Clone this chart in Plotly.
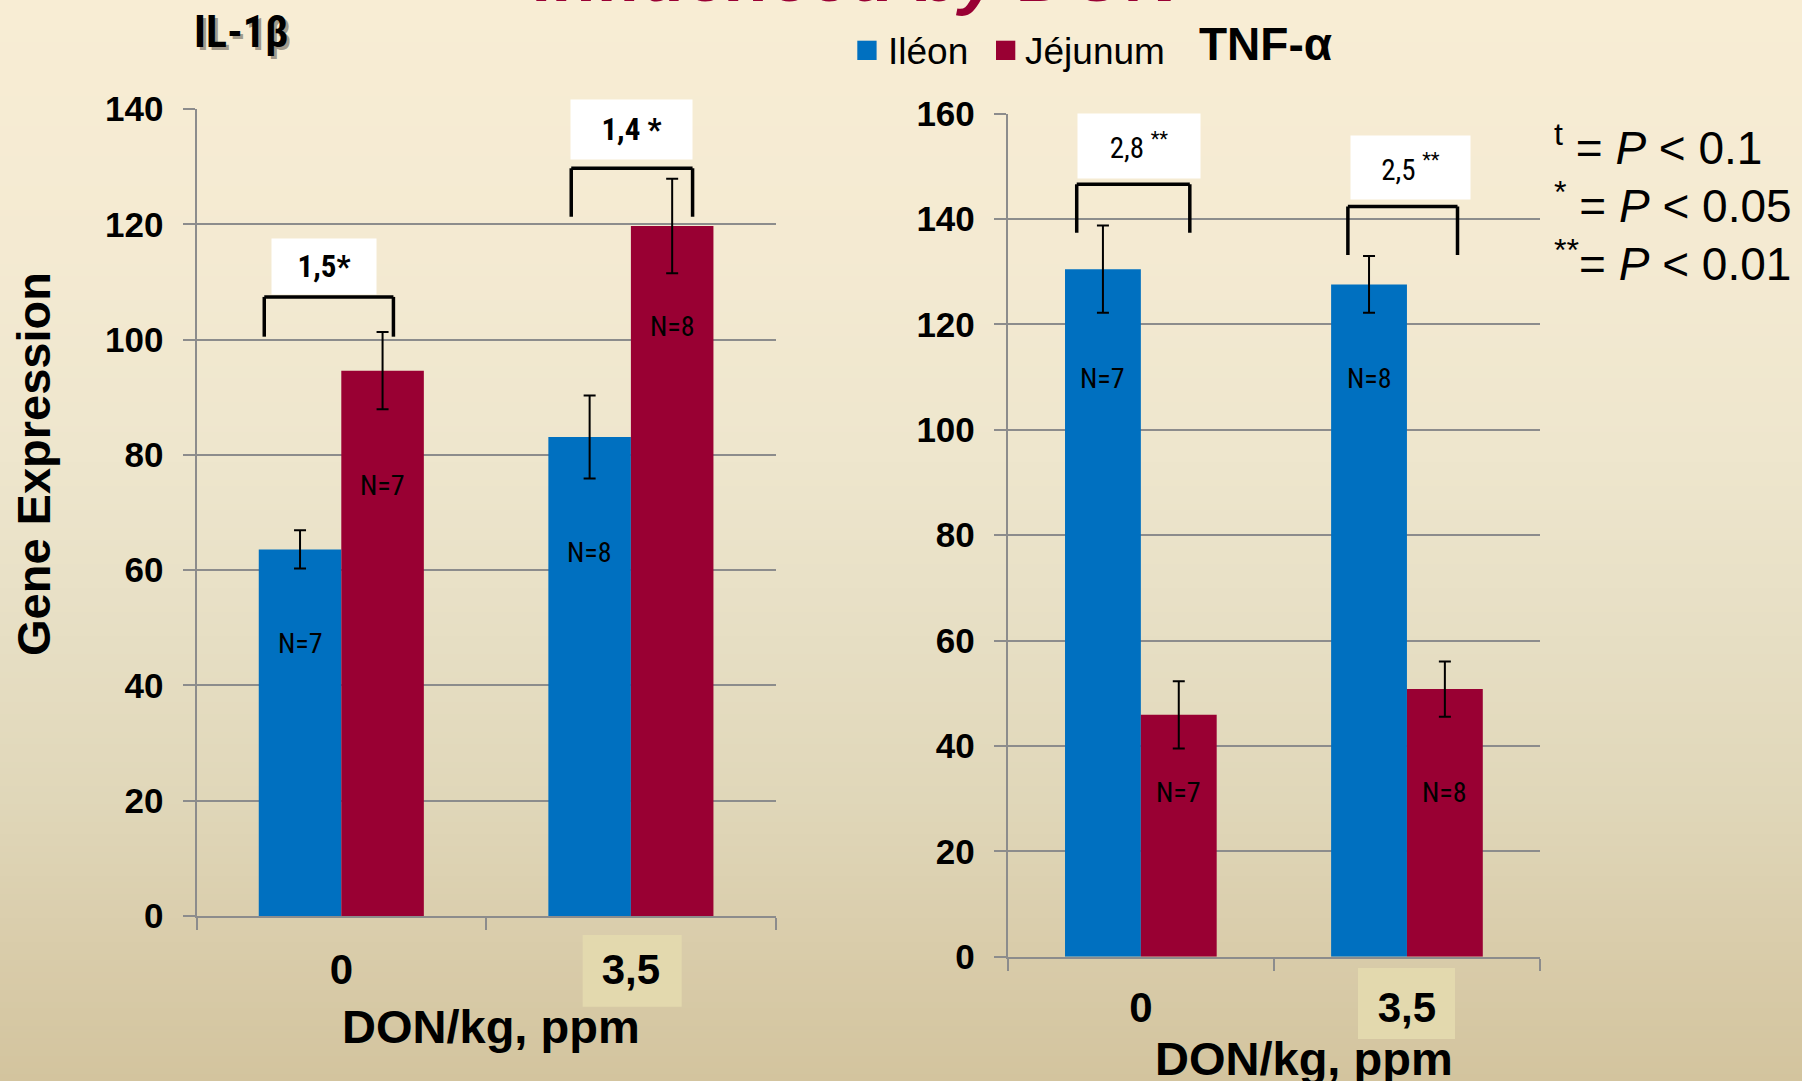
import numpy as np
import plotly.graph_objects as go

# ---- data -------------------------------------------------------------
categories = ["0", "3,5"]
series_names = ["Iléon", "Jéjunum"]

il1b_ileon = [63.6, 83.1]
il1b_ileon_err = [3.3, 7.2]
il1b_jejunum = [94.6, 119.7]
il1b_jejunum_err = [6.7, 8.2]

tnf_ileon = [130.5, 127.6]
tnf_ileon_err = [8.3, 5.4]
tnf_jejunum = [45.9, 50.8]
tnf_jejunum_err = [6.4, 5.25]

n_ileon = [7, 8]
n_jejunum = [7, 8]

il1b_fold = ["1,5*", "1,4 *"]
tnf_fold = ["2,8 <sup>**</sup>", "2,5 <sup>**</sup>"]

y_ticks_il1b = [0, 20, 40, 60, 80, 100, 120, 140]
y_ticks_tnf = [0, 20, 40, 60, 80, 100, 120, 140, 160]

# ---- layout helpers ---------------------------------------------------
W, H = 1802, 1081
BLUE = "#0070C0"
RED = "#990033"
GRID = "#8C8C8C"
SANS = "Liberation Sans, Arial, sans-serif"
NARROW = ("Liberation Sans Narrow, Arial Narrow, Roboto Condensed, "
          "DejaVu Sans Condensed, Liberation Sans, sans-serif")
BARGAP = 0.43
HALF = (1 - BARGAP) / 4  # offset of each bar centre from its category centre


def px(x):
    return x / W


def py(y):
    return 1 - y / H


fig = go.Figure()

panels = [
    ("x", "y", il1b_ileon, il1b_ileon_err, il1b_jejunum, il1b_jejunum_err),
    ("x2", "y2", tnf_ileon, tnf_ileon_err, tnf_jejunum, tnf_jejunum_err),
]
for xa, ya, v1, e1, v2, e2 in panels:
    for vals, errs, color, name in ((v1, e1, BLUE, series_names[0]),
                                    (v2, e2, RED, series_names[1])):
        fig.add_trace(go.Bar(
            x=categories, y=vals, name=name, marker=dict(color=color, line_width=0),
            error_y=dict(type="data", array=errs, color="black", thickness=2, width=6),
            xaxis=xa, yaxis=ya, showlegend=False,
        ))

# ---- background gradient ---------------------------------------------
stops_y = [0, 250, 450, 600, 800, 950, 1081]
stops_c = [(248, 237, 212), (244, 234, 210), (238, 230, 205), (232, 224, 198),
           (224, 215, 185), (217, 204, 170), (211, 196, 158)]
shapes = []
band = 6
for y0 in range(0, H, band):
    yc = y0 + band / 2
    c = [int(round(np.interp(yc, stops_y, [s[i] for s in stops_c]))) for i in range(3)]
    shapes.append(dict(type="rect", xref="paper", yref="paper", layer="below",
                       x0=0, x1=1, y0=py(min(y0 + band, H)), y1=py(y0),
                       fillcolor=f"rgb({c[0]},{c[1]},{c[2]})", line_width=0))

# highlight boxes behind the "3,5" category labels
for (x0, y0, x1, y1) in [(582.7, 935, 681.7, 1006.7), (1358, 968, 1455, 1039)]:
    shapes.append(dict(type="rect", xref="paper", yref="paper", layer="below",
                       x0=px(x0), x1=px(x1), y0=py(y1), y1=py(y0),
                       fillcolor="#E3D9AE", line_width=0))

# significance brackets (category-relative x, data y)
brackets = [
    ("x", "y", 0, -0.266, 0.18, 107.4, 100.5),
    ("x", "y", 1, -0.206, 0.213, 129.7, 121.3),
    ("x2", "y2", 0, -0.241, 0.184, 146.6, 137.4),
    ("x2", "y2", 1, -0.222, 0.19, 142.4, 133.2),
]
for xa, ya, ci, dl, dr, ytop, ybot in brackets:
    xl, xr = ci + dl, ci + dr
    for seg in ((xl, ybot, xl, ytop), (xl, ytop, xr, ytop), (xr, ytop, xr, ybot)):
        shapes.append(dict(type="line", xref=xa, yref=ya, x0=seg[0], y0=seg[1],
                           x1=seg[2], y1=seg[3], line=dict(color="black", width=3.5)))

# legend swatches
for (x0, color) in [(857.3, BLUE), (996, RED)]:
    shapes.append(dict(type="rect", xref="paper", yref="paper",
                       x0=px(x0), x1=px(x0 + 19.3), y0=py(60), y1=py(40.7),
                       fillcolor=color, line_width=0))

# ---- annotations ------------------------------------------------------
ann = []


def note(x, y, text, font, xanchor="center", yanchor="middle", **kw):
    ann.append(dict(xref="paper", yref="paper", x=px(x), y=py(y), text=text,
                    showarrow=False, xanchor=xanchor, yanchor=yanchor, font=font, **kw))


# sample sizes inside the bars
n_pos = [
    ("x", "y", n_ileon, -HALF, [47.3, 63.0]),
    ("x", "y", n_jejunum, HALF, [74.6, 102.3]),
    ("x2", "y2", n_ileon, -HALF, [109.7, 109.7]),
    ("x2", "y2", n_jejunum, HALF, [31.1, 31.1]),
]
for xa, ya, ns, off, ys in n_pos:
    for i, (n, yv) in enumerate(zip(ns, ys)):
        ann.append(dict(xref=xa, yref=ya, x=i + off, y=yv, text=f"N={n}", showarrow=False,
                        xanchor="center", yanchor="middle",
                        font=dict(family=NARROW, size=28, color="black")))

# fold-change boxes
boxes = [
    ("x", "y", 0, -0.06, 112.7, 104, 55, il1b_fold[0], "bold", 31),
    ("x", "y", 1, 0.002, 136.4, 121, 59, il1b_fold[1], "bold", 31),
    ("x2", "y2", 0, -0.006, 153.9, 122, 64, tnf_fold[0], "normal", 29),
    ("x2", "y2", 1, 0.013, 149.7, 119, 63, tnf_fold[1], "normal", 29),
]
for xa, ya, ci, dx, yv, w, h, txt, wt, fs in boxes:
    ann.append(dict(xref=xa, yref=ya, x=ci + dx, y=yv, text=txt, showarrow=False,
                    xanchor="center", yanchor="middle",
                    width=w, height=h, bgcolor="white", borderpad=0, align="center",
                    valign="middle",
                    font=dict(family=NARROW, size=fs, color="black", weight=wt)))

# titles
note(195, 35, "IL-1β", dict(family=NARROW, size=44, color="rgba(0,0,0,0.35)",
                            weight="bold"), xanchor="left")
note(192, 32, "IL-1β", dict(family=NARROW, size=44, color="black", weight="bold"),
     xanchor="left")
note(1265, 44, "TNF-α", dict(family=SANS, size=46, color="black", weight="bold"))
note(858, -24, "<i>influenced by DON</i>",
     dict(family=SANS, size=72, color=RED, weight="bold"))

# legend labels
for x0, name in [(886, series_names[0]), (1023.3, series_names[1])]:
    note(x0, 51, name, dict(family=SANS, size=37, color="black"), xanchor="left")

# significance key
key = ["<sup>t</sup> = <i>P</i> &lt; 0.1", "<sup>*</sup> = <i>P</i> &lt; 0.05",
       "<sup>**</sup>= <i>P</i> &lt; 0.01"]
for i, txt in enumerate(key):
    note(1552, 145 + 58 * i, txt, dict(family=SANS, size=46, color="black"),
         xanchor="left")

# axis titles
note(33, 464, "Gene Expression", dict(family=SANS, size=47, color="black", weight="bold"),
     textangle=-90)
for xc, yc in [(490.7, 1026), (1304, 1058)]:
    note(xc, yc, "DON/kg, ppm", dict(family=SANS, size=47, color="black", weight="bold"))

# ---- axes -------------------------------------------------------------
xcommon = dict(type="category", range=[-0.5, 1.5], showline=True, linecolor=GRID,
               linewidth=2, ticks="outside", tickson="boundaries", ticklen=12,
               tickcolor=GRID, tickwidth=2, showgrid=False, zeroline=False,
               automargin=False,
               tickfont=dict(family=SANS, size=42, color="black", weight="bold"))
ycommon = dict(showline=True, linecolor=GRID, linewidth=2, ticks="outside", ticklen=12,
               tickcolor=GRID, tickwidth=2, showgrid=True, gridcolor=GRID, gridwidth=2,
               zeroline=False, ticklabelstandoff=12, automargin=False,
               tickfont=dict(family=SANS, size=35, color="black", weight="bold"))

fig.update_layout(
    width=W, height=H, margin=dict(l=0, r=0, t=0, b=0, autoexpand=False),
    paper_bgcolor="rgb(211,196,158)", plot_bgcolor="rgba(0,0,0,0)",
    barmode="group", bargap=BARGAP, bargroupgap=0,
    showlegend=False,
    xaxis=dict(xcommon, domain=[px(196.5), px(775.7)], anchor="y", ticklabelstandoff=16),
    yaxis=dict(ycommon, domain=[py(916), py(109)], anchor="x", range=[0, 140],
               tickvals=y_ticks_il1b),
    xaxis2=dict(xcommon, domain=[px(1007.8), px(1540)], anchor="y2", ticklabelstandoff=13),
    yaxis2=dict(ycommon, domain=[py(956.7), py(113.7)], anchor="x2", range=[0, 160],
                tickvals=y_ticks_tnf),
    shapes=shapes,
    annotations=ann,
)

fig.write_html("out.html")
